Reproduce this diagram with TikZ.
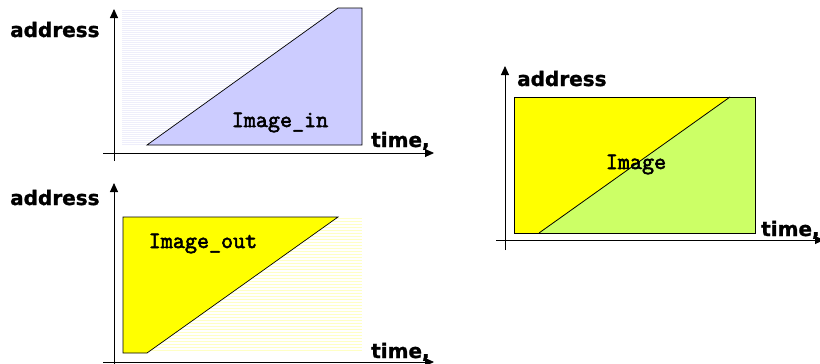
\documentclass[tikz,border=0pt]{standalone}
\usepackage{fontspec}
\usetikzlibrary{arrows.meta}
\newfontfamily\lblfont{DejaVu Sans Bold}[FakeBold=1.2]
\newfontfamily\imgfont{Latin Modern Mono}[FakeBold=2.5]
\definecolor{lav}{HTML}{CCCCFF}
\definecolor{lavstripe}{HTML}{EEEEFB}
\definecolor{ylw}{HTML}{FFFF00}
\definecolor{ylwstripe}{HTML}{FFFFC4}
\definecolor{lime}{HTML}{CCFF66}
\begin{document}
\begin{tikzpicture}[x=1pt,y=-1pt,
  axis/.style={line width=0.9pt,-{Triangle[length=9pt,width=8pt]}},
  shapeline/.style={line width=0.7pt,draw=black},
  axislabel/.style={font=\lblfont\fontsize{20}{24}\selectfont,inner sep=0pt,anchor=base west},
  imglabel/.style={font=\imgfont\fontsize{23.4}{26}\selectfont,inner sep=0pt,anchor=base},
]
\useasboundingbox (0,0) rectangle (820,364);

% ---------- Panel 1: Image_in ----------
\foreach \yy in {10,12,...,144} {\draw[lavstripe,line width=0.8pt] (122,\yy) -- (345,\yy);}
\draw[shapeline,fill=lav] (147,145) -- (338,8) -- (362,8) -- (362,145) -- cycle;
\coordinate (a1b) at (114,161);
\coordinate (a1t) at (114,9);
\coordinate (t1l) at (103,153);
\coordinate (t1r) at (434,153);
\draw[axis] (a1b) -- (a1t);
\draw[axis] (t1l) -- (t1r);
\node[axislabel] (addr1) at (10,37) {address};
\node[axislabel] (time1) at (371,147) {time,};
\node[imglabel] (img1) at (280,127) {Image\_in};

% ---------- Panel 2: Image_out ----------
\foreach \yy in {218,221,...,352} {\draw[ylwstripe,line width=0.9pt] (140,\yy) -- (362,\yy);}
\draw[shapeline,fill=ylw] (123,353) -- (123,217) -- (338,217) -- (147,353) -- cycle;
\coordinate (a2b) at (114,364);
\coordinate (a2t) at (114,183);
\coordinate (t2l) at (103,362);
\coordinate (t2r) at (434,362);
\draw[axis] (a2b) -- (a2t);
\draw[axis] (t2l) -- (t2r);
\node[axislabel] (addr2) at (10,205) {address};
\node[axislabel] (time2) at (371,358) {time,};
\node[imglabel] (img2) at (203,248) {Image\_out};

% ---------- Panel 3: Image ----------
\fill[lime] (514,233) -- (730,97) -- (755,97) -- (755,233) -- cycle;
\fill[ylw] (514,97) -- (730,97) -- (539,233) -- (514,233) -- cycle;
\draw[shapeline] (514,97) rectangle (755,233);
\draw[line width=0.8pt] (539,233) -- (730,97);
\coordinate (a3b) at (505,250);
\coordinate (a3t) at (505,66);
\coordinate (t3l) at (496,240);
\coordinate (t3r) at (824,240);
\draw[axis] (a3b) -- (a3t);
\draw[axis] (t3l) -- (t3r);
\node[axislabel] (addr3) at (517,86) {address};
\node[axislabel] (time3) at (761,236) {time,};
\node[imglabel] (img3) at (636,169) {Image};
\end{tikzpicture}
\end{document}
